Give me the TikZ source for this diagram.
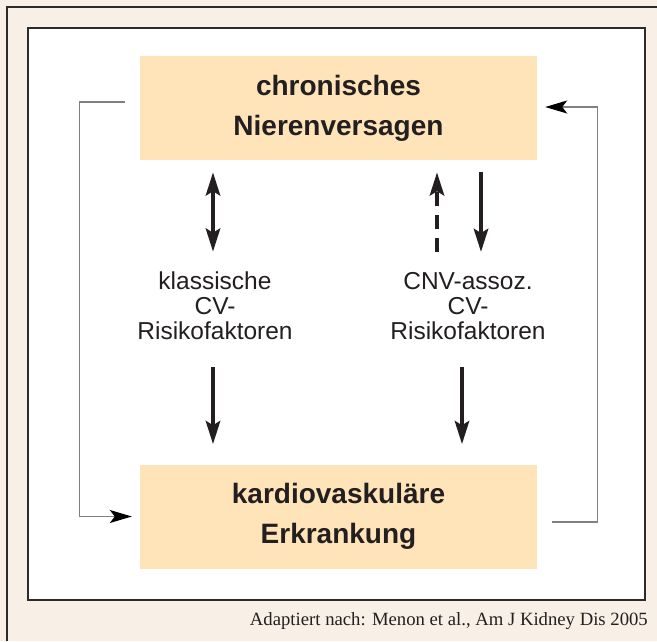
\documentclass[tikz,border=0pt]{standalone}
\usepackage{fontspec}
\setmainfont{Liberation Serif}
\setsansfont{Liberation Sans}
\usetikzlibrary{arrows.meta}
\definecolor{pagebg}{HTML}{F8EFE6}
\definecolor{boxfill}{HTML}{FEE4B8}
\definecolor{framegray}{HTML}{2B2B2B}
\definecolor{loopgray}{HTML}{808080}
\definecolor{inkdark}{HTML}{231F20}
\tikzset{
  bigtip/.tip={Stealth[length=23pt,width=14pt,inset=4pt]},
  looptip/.tip={Stealth[length=22pt,width=13pt,inset=5pt,color=black]}
}

\begin{document}
\begin{tikzpicture}[x=1pt,y=-1pt,>=Stealth,
  box/.style={fill=boxfill,minimum width=397pt,minimum height=104pt,inner sep=0pt,align=center,
    text=inkdark,font=\sffamily\bfseries\fontsize{28}{40}\selectfont},
  lbl/.style={inner sep=0pt,align=center,text=inkdark,font=\sffamily\fontsize{24.5}{25}\selectfont},
  bigarrow/.style={line width=4.8pt,draw=inkdark,-bigtip},
  loopline/.style={line width=1.3pt,draw=loopgray,-looptip}]
\useasboundingbox (0,0) rectangle (657,641);
% ---------- frame ----------
\fill[pagebg] (0,0) rectangle (657,641);
\draw[framegray,line width=1.6pt] (7,641) -- (7,7) -- (657,7);
\draw[framegray,line width=2.2pt,fill=white] (28,28) rectangle (645,600);
% ---------- boxes ----------
\node[box] (cnv) at (338.5,108) {chronisches\\Nierenversagen};
\node[box] (cvd) at (338.5,516.5) {kardiovaskuläre\\Erkrankung};
% ---------- risk factors ----------
\node[lbl] (klass) at (215,306) {klassische\\CV-\\Risikofaktoren};
\node[lbl] (assoz) at (468,306) {CNV-assoz.\\CV-\\Risikofaktoren};
\coordinate (ka) at ([xshift=-2pt]klass.north);
\coordinate (kb) at ([xshift=-2pt]klass.south);
\coordinate (au) at ([xshift=-31pt]assoz.north);
\coordinate (ad) at ([xshift=13pt]assoz.north);
\coordinate (as) at ([xshift=-6pt]assoz.south);
\draw[bigarrow,arrows={bigtip-bigtip},shorten <=12pt,shorten >=20pt] (ka |- cnv.south) -- (ka);
\draw[bigarrow,dash pattern=on 14pt off 9pt,shorten <=20pt,shorten >=12pt] (au) -- (au |- cnv.south);
\draw[bigarrow,shorten <=12pt,shorten >=20pt] (ad |- cnv.south) -- (ad);
\draw[bigarrow,shorten <=27pt,shorten >=20pt] (kb) -- (kb |- cvd.north);
\draw[bigarrow,shorten <=27pt,shorten >=20pt] (as) -- (as |- cvd.north);
% ---------- feedback loops ----------
\draw[loopline] ([shift={(-15pt,6pt)}]cnv.west) -- ++(-45pt,0) |- ([xshift=-8pt]cvd.west);
\draw[loopline] ([shift={(15pt,-5.5pt)}]cvd.east) -- ++(45pt,0) |- ([shift={(8pt,1pt)}]cnv.east);
% ---------- source ----------
\node[anchor=base east,inner sep=0pt,text=inkdark,font=\fontsize{18.7}{22}\selectfont] (src) at (648,625)
  {Adaptiert nach: Menon et al., Am J Kidney Dis 2005};
\end{tikzpicture}
\end{document}
